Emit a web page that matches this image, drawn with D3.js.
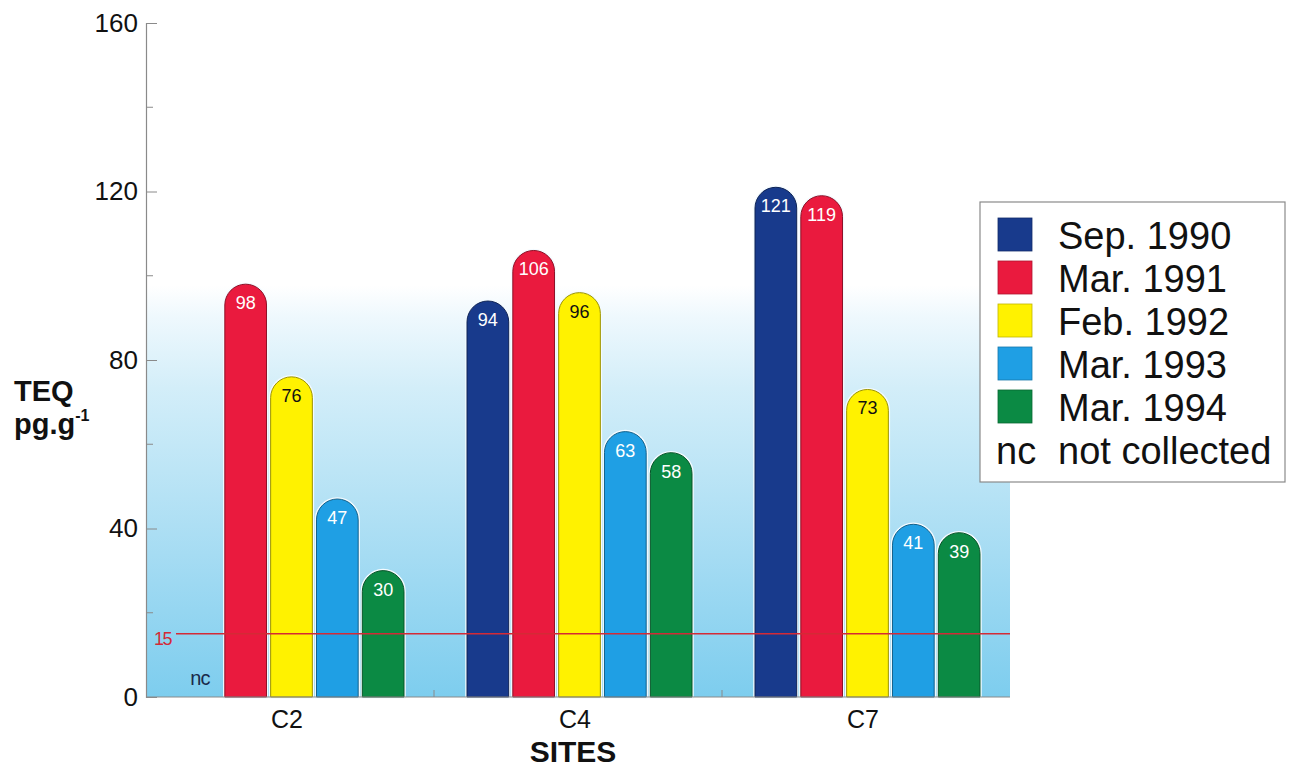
<!DOCTYPE html>
<html>
<head>
<meta charset="utf-8">
<script src="https://cdn.jsdelivr.net/npm/d3@7"></script>
<style>
  html, body { margin: 0; padding: 0; background: #fff; }
  svg { display: block; font-family: "Liberation Sans", Arial, Helvetica, sans-serif; }
</style>
</head>
<body>
<svg id="chart" width="1292" height="769"></svg>
<script>
// Sampling sites and campaigns
const sites = ["C2", "C4", "C7"];
const campaigns = ["Sep. 1990", "Mar. 1991", "Feb. 1992", "Mar. 1993", "Mar. 1994"];
const campaignColors = ["#183a8c", "#ea1a3e", "#fff200", "#1f9fe4", "#0b8a44"];
const labelColors = ["#fff", "#fff", "#111", "#fff", "#fff"];

// TEQ (pg/g) per site, one value per campaign; null = not collected
const teqC2 = [null, 98, 76, 47, 30];
const teqC4 = [94, 106, 96, 63, 58];
const teqC7 = [121, 119, 73, 41, 39];
const teqBySite = [teqC2, teqC4, teqC7];

const yTicks = [0, 40, 80, 120, 160];
const yMinorTicks = [20, 60, 100, 140];
const threshold = 15;

const svg = d3.select("#chart");
const plot = { left: 146, right: 1010, top: 23, bottom: 697 };

const x = d3.scaleBand().domain(sites).range([plot.left, plot.right]).padding(0);
const xInner = d3.scaleBand().domain(campaigns)
  .range([33, x.bandwidth() - 30]).paddingInner(0.09).paddingOuter(0);
const y = d3.scaleLinear().domain([0, 160]).range([plot.bottom, plot.top]);

// Background wash: light blue rising from the baseline, fading to white
const defs = svg.append("defs");
const grad = defs.append("linearGradient").attr("id", "wash")
  .attr("gradientUnits", "userSpaceOnUse")
  .attr("x1", 0).attr("x2", 0).attr("y1", plot.bottom).attr("y2", 285);
grad.append("stop").attr("offset", 0).attr("stop-color", "#7dcdee");
grad.append("stop").attr("offset", 0.35).attr("stop-color", "#a6dcf3");
grad.append("stop").attr("offset", 0.75).attr("stop-color", "#d3eef9");
grad.append("stop").attr("offset", 0.92).attr("stop-color", "#eef8fd");
grad.append("stop").attr("offset", 1).attr("stop-color", "#ffffff");

svg.append("rect")
  .attr("x", plot.left).attr("y", 285)
  .attr("width", plot.right - plot.left).attr("height", plot.bottom - 285)
  .attr("fill", "url(#wash)");

// Bars with rounded tops
function barPath(x0, w, yTop, yBase) {
  const r = w / 2;
  return `M${x0},${yBase} L${x0},${yTop + r} A${r},${r} 0 0 1 ${x0 + w},${yTop + r} L${x0 + w},${yBase} Z`;
}

const rows = [];
sites.forEach((s, i) => {
  teqBySite[i].forEach((v, j) => {
    rows.push({ site: s, campaign: campaigns[j], idx: j, value: v });
  });
});

const bars = svg.append("g");
const collected = rows.filter(d => d.value !== null);

bars.selectAll("path.halo").data(collected).join("path")
  .attr("class", "halo")
  .attr("d", d => barPath(x(d.site) + xInner(d.campaign), xInner.bandwidth(), y(d.value), y(0)))
  .attr("fill", "none").attr("stroke", "#f4fbff").attr("stroke-width", 3.5);

bars.selectAll("path.bar").data(collected).join("path")
  .attr("class", "bar")
  .attr("d", d => barPath(x(d.site) + xInner(d.campaign), xInner.bandwidth(), y(d.value), y(0)))
  .attr("fill", d => campaignColors[d.idx])
  .attr("stroke", d => d3.color(campaignColors[d.idx]).darker(1.4))
  .attr("stroke-width", 1);

bars.selectAll("text.val").data(collected).join("text")
  .attr("class", "val")
  .attr("x", d => x(d.site) + xInner(d.campaign) + xInner.bandwidth() / 2)
  .attr("y", d => y(d.value) + 25)
  .attr("text-anchor", "middle")
  .attr("font-size", 18)
  .attr("fill", d => labelColors[d.idx])
  .text(d => d.value);

// Missing samples
svg.append("g").selectAll("text.nc").data(rows.filter(d => d.value === null)).join("text")
  .attr("class", "nc")
  .attr("x", d => x(d.site) + xInner(d.campaign) + xInner.bandwidth() / 2)
  .attr("y", y(0) - 12)
  .attr("text-anchor", "middle")
  .attr("font-size", 20)
  .attr("letter-spacing", -1)
  .attr("fill", "#1a2a4a")
  .text("nc");

// Threshold line at 15
svg.append("line")
  .attr("x1", plot.left + 30).attr("x2", plot.right)
  .attr("y1", y(threshold)).attr("y2", y(threshold))
  .attr("stroke", "#d42a36").attr("stroke-width", 1.5);
svg.append("text")
  .attr("x", plot.left + 8).attr("y", y(threshold) + 11)
  .attr("font-size", 18).attr("fill", "#d42a36")
  .attr("letter-spacing", -1.5)
  .text(threshold);

// Y axis (ticks point inward)
const yAxis = d3.axisRight(y).tickValues(yTicks).tickSize(11).tickFormat(d => d);
const gy = svg.append("g").attr("transform", `translate(${plot.left},0)`).call(yAxis);
gy.select(".domain").attr("stroke", "#8a8a8a").attr("stroke-width", 1.2);
gy.selectAll(".tick line").attr("stroke", "#8a8a8a");
gy.selectAll(".tick text")
  .attr("x", -8).attr("text-anchor", "end")
  .attr("font-size", 26).attr("fill", "#111")
  .attr("font-family", "'Liberation Sans', Arial, sans-serif");
svg.append("g").selectAll("line").data(yMinorTicks).join("line")
  .attr("x1", plot.left).attr("x2", plot.left + 7)
  .attr("y1", d => y(d)).attr("y2", d => y(d))
  .attr("stroke", "#8a8a8a");

// X axis
svg.append("line")
  .attr("x1", plot.left).attr("x2", plot.right)
  .attr("y1", plot.bottom).attr("y2", plot.bottom)
  .attr("stroke", "#8a8a8a").attr("stroke-width", 1.2);
svg.append("g").selectAll("line").data(sites.slice(1)).join("line")
  .attr("x1", d => x(d)).attr("x2", d => x(d))
  .attr("y1", plot.bottom).attr("y2", plot.bottom - 7)
  .attr("stroke", "#8a8a8a");
svg.append("g").selectAll("text").data(sites).join("text")
  .attr("x", d => x(d) + x.bandwidth() / 2 - 3)
  .attr("y", plot.bottom + 31)
  .attr("text-anchor", "middle")
  .attr("font-size", 25).attr("fill", "#111")
  .text(d => d);

// Axis titles
svg.append("text")
  .attr("x", 573).attr("y", 762)
  .attr("text-anchor", "middle")
  .attr("font-size", 30).attr("font-weight", "bold").attr("fill", "#111")
  .text("SITES");
svg.append("text")
  .attr("x", 14).attr("y", 401)
  .attr("font-size", 29).attr("font-weight", "bold").attr("fill", "#111")
  .text("TEQ");
const unit = svg.append("text")
  .attr("x", 14).attr("y", 434)
  .attr("font-size", 29).attr("font-weight", "bold").attr("fill", "#111");
unit.append("tspan").text("pg.g");
unit.append("tspan").attr("dy", -13).attr("font-size", 16).text("-1");

// Legend
const lg = svg.append("g").attr("transform", "translate(980,202)");
lg.append("rect").attr("width", 305).attr("height", 280)
  .attr("fill", "#fff").attr("stroke", "#8a8a8a").attr("stroke-width", 1.2);
const items = lg.selectAll("g.item").data(campaigns).join("g")
  .attr("class", "item")
  .attr("transform", (d, i) => `translate(0,${32 + i * 43})`);
items.append("rect")
  .attr("x", 18).attr("y", -16).attr("width", 34).attr("height", 33)
  .attr("fill", (d, i) => campaignColors[i])
  .attr("stroke", (d, i) => d3.color(campaignColors[i]).darker(0.8)).attr("stroke-width", 0.8);
items.append("text")
  .attr("x", 78).attr("y", 15)
  .attr("font-size", 38).attr("fill", "#111")
  .text(d => d);
const ncRow = lg.append("g").attr("transform", `translate(0,${32 + 5 * 43})`);
ncRow.append("text").attr("x", 16).attr("y", 15).attr("font-size", 38).attr("fill", "#111").text("nc");
ncRow.append("text").attr("x", 78).attr("y", 15).attr("font-size", 38).attr("fill", "#111").text("not collected");
</script>
</body>
</html>
